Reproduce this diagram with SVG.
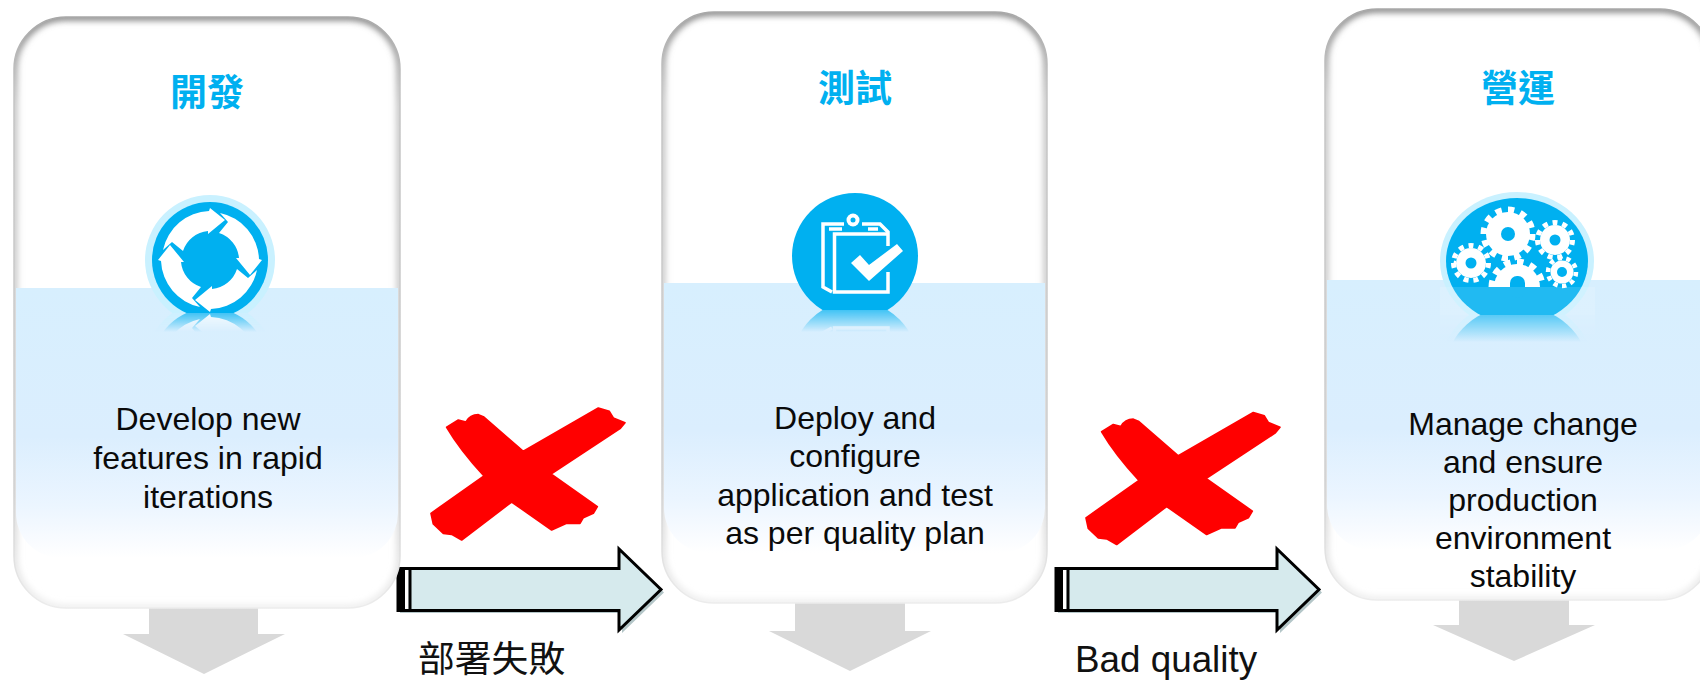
<svg xmlns="http://www.w3.org/2000/svg" xmlns:xlink="http://www.w3.org/1999/xlink" width="1700" height="680" viewBox="0 0 1700 680">
<style>
.card{fill:#fff}
.edge{fill:none;stroke:url(#edgeG);stroke-width:1.5}
.glow{fill:none;stroke:url(#glowG);stroke-width:7;filter:url(#soft)}
.band{fill:url(#bandG)}
.title{font-family:"Noto Sans CJK TC","Noto Sans CJK SC",sans-serif;font-weight:700;font-size:37px;fill:#00B0F0;text-anchor:middle}
.body{font-family:"Liberation Sans",Arial,sans-serif;font-size:32px;fill:#0a0a0a;text-anchor:middle}
.lbl{font-family:"Liberation Sans","Noto Sans CJK TC",sans-serif;font-size:36.800px;fill:#111}
.drop{fill:#D9D9D9}
.blue{fill:#00B0F0}
.halo{fill:#C9F1FF}
.wh{fill:#fff}
.ln{fill:none;stroke:#fff;stroke-width:3.500}
.tooth{fill:none;stroke:#fff}
.shaft{fill:#D6EAED;stroke:#000;stroke-width:3;stroke-linejoin:miter}
.sh{fill:#B4C6C8}
.x{fill:#FF0000;stroke:#FF0000;stroke-width:5;stroke-linejoin:round}
</style>
<defs>
<filter id="soft" x="-10%" y="-10%" width="120%" height="120%"><feGaussianBlur stdDeviation="3"/></filter>
<linearGradient id="edgeG" x1="0" y1="0" x2="0" y2="1"><stop offset="0" stop-color="#a8a8a8"/><stop offset=".12" stop-color="#c4c4c4"/><stop offset=".8" stop-color="#d0d0d0"/><stop offset="1" stop-color="#ececec"/></linearGradient>
<linearGradient id="glowG" x1="0" y1="0" x2="0" y2="1"><stop offset="0" stop-color="#808080"/><stop offset=".15" stop-color="#c0c0c0"/><stop offset=".8" stop-color="#cfcfcf"/><stop offset="1" stop-color="#eeeeee"/></linearGradient>
<linearGradient id="bandG" x1="0" y1="0" x2="0" y2="1"><stop offset="0" stop-color="#D7EFFE"/><stop offset=".55" stop-color="#DBEEFE"/><stop offset=".8" stop-color="#EBF5FF"/><stop offset=".93" stop-color="#F8FBFF"/><stop offset="1" stop-color="#fff"/></linearGradient>
<linearGradient id="fade" x1="0" y1="0" x2="0" y2="1"><stop offset="0" stop-color="#fff" stop-opacity=".7"/><stop offset="1" stop-color="#fff" stop-opacity="0"/></linearGradient>
<clipPath id="c1"><rect x="14" y="17" width="386" height="591" rx="52"/></clipPath>
<clipPath id="c2"><rect x="662" y="12" width="385" height="591" rx="52"/></clipPath>
<clipPath id="c3"><rect x="1325" y="9" width="387" height="591" rx="52"/></clipPath>
<clipPath id="i1"><rect x="130" y="180" width="160" height="133"/></clipPath>
<clipPath id="i2"><rect x="780" y="180" width="150" height="130"/></clipPath>
<clipPath id="i3"><rect x="1430" y="180" width="180" height="135"/></clipPath>
<clipPath id="halfGear"><rect x="1480" y="250" width="80" height="37"/></clipPath>
<mask id="m1" maskUnits="userSpaceOnUse" x="130" y="313" width="160" height="19"><rect x="130" y="313" width="160" height="19" fill="url(#fade)"/></mask>
<mask id="m2" maskUnits="userSpaceOnUse" x="780" y="310" width="150" height="22"><rect x="780" y="310" width="150" height="22" fill="url(#fade)"/></mask>
<mask id="m3" maskUnits="userSpaceOnUse" x="1430" y="315" width="180" height="27"><rect x="1430" y="315" width="180" height="27" fill="url(#fade)"/></mask>
<path id="seg" class="wh" d="M-47,-10 L-38,-18 L-27,-9 A29,29 0 0 1 -2,-29 L-2,-26 L15,-40 L0,-52 L-1,-49 A49,49 0 0 0 -47,-10Z"/>
<g id="art1" clip-path="url(#i1)">
<circle class="halo" cx="210" cy="260" r="65"/><circle class="blue" cx="210" cy="260" r="58"/>
<g transform="translate(210,260)"><use xlink:href="#seg" href="#seg"/><use xlink:href="#seg" href="#seg" transform="rotate(90)"/><use xlink:href="#seg" href="#seg" transform="rotate(180)"/><use xlink:href="#seg" href="#seg" transform="rotate(270)"/></g>
</g>
<g id="art2" clip-path="url(#i2)">
<circle class="blue" cx="855" cy="256" r="63"/>
<path class="ln" d="M844,224 H823 V287 L832,292"/>
<path class="ln" d="M829,229 H842"/>
<path class="ln" d="M862,224 H880 L888,232 V246"/>
<path class="ln" d="M868,229 H878"/>
<path class="ln" d="M888,272 V292 H834.500 V234 H888"/>
<circle class="wh" cx="853" cy="220" r="6.500"/><circle class="blue" cx="853" cy="220" r="2.500"/>
<path class="wh" d="M851,263 L860,255 L869,265 L897,244 L903,251 L869,281Z"/>
</g>
<g id="art3" clip-path="url(#i3)">
<ellipse class="halo" cx="1517" cy="261" rx="77" ry="69"/><ellipse class="blue" cx="1517" cy="261" rx="71" ry="63"/>
<circle class="wh" cx="1508" cy="234" r="22"/><circle class="tooth" cx="1508" cy="234" r="24" stroke-width="7" pathLength="24" stroke-dasharray="1 1"/>
<circle class="wh" cx="1555" cy="240" r="15"/><circle class="tooth" cx="1555" cy="240" r="17.500" stroke-width="5" pathLength="22" stroke-dasharray="1 1"/>
<circle class="wh" cx="1471" cy="263" r="15"/><circle class="tooth" cx="1471" cy="263" r="17.500" stroke-width="5" pathLength="22" stroke-dasharray="1 1"/>
<circle class="wh" cx="1562" cy="272" r="11.500"/><circle class="tooth" cx="1562" cy="272" r="14" stroke-width="4.500" pathLength="20" stroke-dasharray="1 1"/>
<g clip-path="url(#halfGear)"><circle class="wh" cx="1517" cy="287" r="23"/><circle class="tooth" cx="1517" cy="287" r="25" stroke-width="7" pathLength="24" stroke-dasharray="1 1"/></g>
<circle class="blue" cx="1508" cy="234" r="7"/><circle class="blue" cx="1555" cy="240" r="5.500"/><circle class="blue" cx="1471" cy="263" r="5.500"/><circle class="blue" cx="1562" cy="272" r="5"/>
<rect class="blue" x="1510" y="276" width="15" height="22" rx="7"/>
<rect x="1440" y="287" width="155" height="28" fill="#fff" opacity=".13"/>
</g>
<path id="xmark" class="x" d="M200,112 L235,90 L258,96 Q270,74 295,74 L310,80 L430,184 L655,54 L688,64 L700,84 L735,98 L720,116 L513,252 L652,350 L640,370 L610,383 L600,400 L560,400 L515,420 L395,336 L245,450 L215,433 L190,430 L160,402 L153,370 L312,258 Q240,180 200,112Z"/>
<g id="block">
<path class="sh" d="M400,571 H622 V552 L664,592.500 L622,633 V613 H400Z"/>
<path class="shaft" d="M398,568.500 H619 V549 L661,589.500 L619,630 V610.500 H398Z"/>
<rect x="397" y="567" width="8" height="45" fill="#000"/><rect x="405" y="570" width="3.500" height="39" fill="#fff"/><rect x="408.500" y="567" width="3" height="45" fill="#000"/>
</g>
</defs>

<g id="connectors">
<use id="x1" xlink:href="#xmark" href="#xmark" transform="translate(380,390) scale(.3333)"/>
<use id="x2" xlink:href="#xmark" href="#xmark" transform="translate(1035,394.500) scale(.3333)"/>
<use id="arrow1" xlink:href="#block" href="#block"/>
<use id="arrow2" xlink:href="#block" href="#block" transform="translate(658,0)"/>
<path class="drop" d="M149,608 H258 V634 H285 L204,674 L123,634 H149Z"/>
<path class="drop" d="M795,603 H905 V631 H931 L850,671 L769,631 H795Z"/>
<path class="drop" d="M1459,600 H1569 V625 H1595 L1514,661 L1433,625 H1459Z"/>
</g>

<g id="node-dev">
<rect class="card" x="14" y="17" width="386" height="591" rx="52"/>
<g clip-path="url(#c1)"><rect class="glow" x="14" y="17" width="386" height="591" rx="52"/><path class="band" d="M16,288 H398 V513 A45,45 0 0 1 353,558 H61 A45,45 0 0 1 16,513Z"/></g>
<rect class="edge" x="14" y="17" width="386" height="591" rx="52"/>
<text class="title" x="207" y="106">開發</text>
<use xlink:href="#art1" href="#art1"/>
<g mask="url(#m1)"><use xlink:href="#art1" href="#art1" transform="translate(0,626) scale(1,-1)"/></g>
<text class="body" x="208" y="430">Develop new</text>
<text class="body" x="208" y="469">features in rapid</text>
<text class="body" x="208" y="508">iterations</text>
</g>

<g id="node-test">
<rect class="card" x="662" y="12" width="385" height="591" rx="52"/>
<g clip-path="url(#c2)"><rect class="glow" x="662" y="12" width="385" height="591" rx="52"/><path class="band" d="M664,283 H1045 V508 A45,45 0 0 1 1000,553 H709 A45,45 0 0 1 664,508Z"/></g>
<rect class="edge" x="662" y="12" width="385" height="591" rx="52"/>
<text class="title" x="855" y="102">測試</text>
<use xlink:href="#art2" href="#art2"/>
<g mask="url(#m2)"><use xlink:href="#art2" href="#art2" transform="translate(0,620) scale(1,-1)"/></g>
<text class="body" x="855" y="429">Deploy and</text>
<text class="body" x="855" y="467">configure</text>
<text class="body" x="855" y="506">application and test</text>
<text class="body" x="855" y="544">as per quality plan</text>
</g>

<g id="node-ops">
<rect class="card" x="1325" y="9" width="387" height="591" rx="52"/>
<g clip-path="url(#c3)"><rect class="glow" x="1325" y="9" width="387" height="591" rx="52"/><path class="band" d="M1327,280 H1710 V505 A45,45 0 0 1 1665,550 H1372 A45,45 0 0 1 1327,505Z"/></g>
<rect class="edge" x="1325" y="9" width="387" height="591" rx="52"/>
<text class="title" x="1518" y="102">營運</text>
<use xlink:href="#art3" href="#art3"/>
<g mask="url(#m3)"><use xlink:href="#art3" href="#art3" transform="translate(0,630) scale(1,-1)"/></g>
<text class="body" x="1523" y="435">Manage change</text>
<text class="body" x="1523" y="473">and ensure</text>
<text class="body" x="1523" y="511">production</text>
<text class="body" x="1523" y="549">environment</text>
<text class="body" x="1523" y="587">stability</text>
</g>

<text class="lbl" x="418" y="672">部署失敗</text>
<text class="lbl" x="1075" y="672">Bad quality</text>
</svg>
